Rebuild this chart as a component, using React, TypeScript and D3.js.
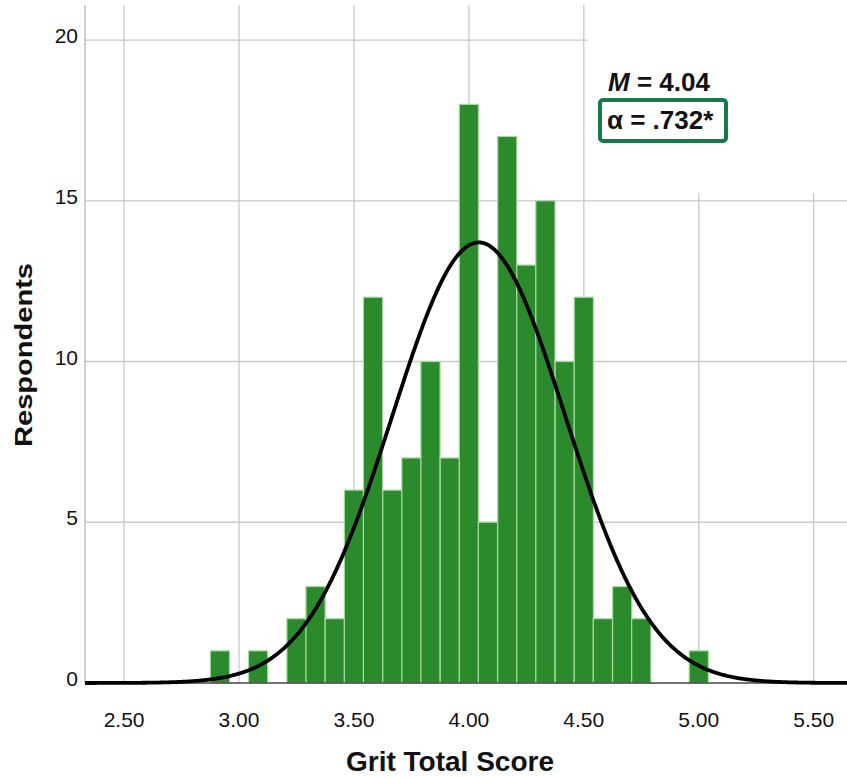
import * as d3 from "d3";

// Histogram bins: score midpoints (Grit, 12 items -> steps of 1/12) and counts
const binMids = [
  2.917, 3.083, 3.25, 3.333, 3.417, 3.5, 3.583, 3.667, 3.75, 3.833, 3.917,
  4.0, 4.083, 4.167, 4.25, 4.333, 4.417, 4.5, 4.583, 4.667, 4.75, 5.0,
];
const binCounts = [
  1, 1, 2, 3, 2, 6, 12, 6, 7, 10, 7,
  18, 5, 17, 13, 15, 10, 12, 2, 3, 2, 1,
];
const BIN_WIDTH = 1 / 12;

const xTicks = [2.5, 3.0, 3.5, 4.0, 4.5, 5.0, 5.5];
const yTicks = [0, 5, 10, 15, 20];

// fitted normal
const MEAN = 4.043;
const SD = 0.376;
const N = 155;

const W = 847;
const H = 777;
const FONT = "'Liberation Sans', Arial, Helvetica, sans-serif";

export default function App() {
  const left = 85;
  const right = 847;
  const top = 5;
  const bottom = 683;

  const x = d3.scaleLinear().domain([2.33, 5.645]).range([left, right]);
  const y = d3.scaleLinear().domain([0, 21.09]).range([bottom, top]);

  const curveXs = d3.range(2.33, 5.646, 0.005);
  const curve = curveXs.map((v) => {
    const z = (v - MEAN) / SD;
    return [v, (N * BIN_WIDTH) / (SD * Math.sqrt(2 * Math.PI)) * Math.exp(-0.5 * z * z)] as [number, number];
  });
  const line = d3
    .line<[number, number]>()
    .x((d) => x(d[0]))
    .y((d) => y(d[1]))
    .curve(d3.curveBasis);

  return (
    <div style={{ position: "absolute", left: 0, top: 0 }}>
      <svg width={W} height={H} style={{ display: "block", background: "#fff" }} fontFamily={FONT}>
        {/* grid */}
        {xTicks.map((t) => (
          <line key={"gx" + t} x1={x(t)} x2={x(t)} y1={top} y2={bottom} stroke="#c9c9c9" strokeWidth={1.3} />
        ))}
        {yTicks.filter((t) => t > 0).map((t) => (
          <line key={"gy" + t} x1={left} x2={right} y1={y(t)} y2={y(t)} stroke="#c9c9c9" strokeWidth={1.3} />
        ))}

        {/* annotation background */}
        <rect x={588} y={0} width={W - 588} height={193} fill="#fff" />

        {/* y axis line */}
        <line x1={left} x2={left} y1={top} y2={bottom} stroke="#b5b5b5" strokeWidth={1.3} />

        {/* bars */}
        {binMids.map((m, i) => (
          <rect
            key={"b" + i}
            x={x(m - BIN_WIDTH / 2)}
            y={y(binCounts[i])}
            width={x(m + BIN_WIDTH / 2) - x(m - BIN_WIDTH / 2)}
            height={y(0) - y(binCounts[i])}
            fill="#2b8a2b"
            stroke="#a7d9a0"
            strokeWidth={1.2}
          />
        ))}

        {/* baseline */}
        <line x1={left} x2={right} y1={bottom} y2={bottom} stroke="#444" strokeWidth={1.5} />

        {/* normal curve */}
        <path d={line(curve) || ""} fill="none" stroke="#000" strokeWidth={3.8} />

        {/* tick labels */}
        {xTicks.map((t) => (
          <text key={"tx" + t} x={x(t)} y={727} textAnchor="middle" fontSize={21} fill="#111">
            {t.toFixed(2)}
          </text>
        ))}
        {yTicks.map((t) => (
          <text key={"ty" + t} x={78} y={y(t) + 3} textAnchor="end" fontSize={21} fill="#111">
            {t}
          </text>
        ))}

        {/* axis titles */}
        <text x={450} y={771} textAnchor="middle" fontSize={28} fontWeight="bold" fill="#111">
          Grit Total Score
        </text>
        <text
          transform="translate(32,355) rotate(-90)"
          textAnchor="middle"
          fontSize={24}
          fontWeight="bold"
          fill="#111"
          textLength={184}
          lengthAdjust="spacingAndGlyphs"
        >
          Respondents
        </text>

        {/* annotation */}
        <text x={608} y={91} fontSize={26} fontWeight="bold" fill="#111">
          <tspan fontStyle="italic">M</tspan>
          <tspan> = 4.04</tspan>
        </text>
        <rect x={600} y={100} width={126} height={41} rx={3} fill="#fff" stroke="#187a4a" strokeWidth={4} />
        <text x={607} y={129} fontSize={26} fontWeight="bold" fill="#111">
          α = .732*
        </text>
      </svg>
    </div>
  );
}
